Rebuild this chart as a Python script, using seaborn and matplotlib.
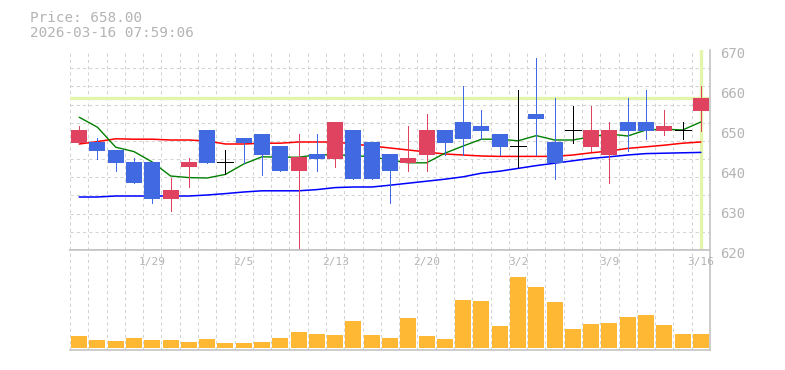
import matplotlib
matplotlib.use("Agg")
import matplotlib.pyplot as plt
from matplotlib.transforms import ScaledTranslation, blended_transform_factory
from matplotlib.ticker import FixedLocator
import seaborn as sns
import numpy as np

# ---------------- data ----------------
dates = ["1/23", "1/26", "1/27", "1/28", "1/29", "1/30", "2/2", "2/3", "2/4", "2/5",
         "2/6", "2/9", "2/10", "2/12", "2/13", "2/16", "2/17", "2/18", "2/19", "2/20",
         "2/24", "2/25", "2/26", "2/27", "3/2", "3/3", "3/4", "3/5", "3/6", "3/9",
         "3/10", "3/11", "3/12", "3/13", "3/16"]
date_labels = ["1/29", "2/5", "2/13", "2/20", "3/2", "3/9", "3/16"]

opens = [646.8, 647.1, 645.0, 642.0, 642.0, 632.8, 640.8, 650.0, 641.9, 648.0,
         649.0, 646.0, 639.8, 644.0, 642.8, 650.0, 647.0, 644.0, 641.8, 643.8,
         650.0, 652.0, 651.0, 649.0, 646.0, 654.0, 647.0, 650.0, 645.8, 643.8,
         652.0, 652.0, 649.8, 650.0, 654.8]
closes = [650.0, 644.8, 641.8, 636.8, 632.8, 635.0, 642.0, 641.8, 641.9, 646.8,
          643.8, 639.8, 643.2, 642.8, 652.0, 637.8, 637.8, 639.8, 643.0, 650.0,
          646.8, 647.8, 649.8, 645.8, 646.0, 652.8, 641.8, 650.0, 650.0, 650.0,
          649.8, 649.8, 651.0, 650.0, 658.0]
highs = [651.0, 648.0, 645.0, 642.9, 642.0, 638.1, 643.0, 650.0, 645.0, 648.0,
         649.0, 646.0, 649.0, 649.0, 652.0, 650.0, 647.0, 644.0, 651.0, 654.0,
         650.0, 661.0, 655.0, 649.0, 660.0, 668.0, 658.0, 656.0, 656.0, 652.0,
         658.0, 660.0, 655.0, 652.0, 661.0]
lows = [646.8, 642.8, 639.8, 636.8, 631.8, 629.8, 635.8, 641.8, 638.9, 641.7,
        638.8, 639.8, 619.5, 639.8, 640.8, 637.8, 637.8, 631.8, 639.8, 639.8,
        643.8, 643.8, 647.8, 643.8, 640.8, 643.8, 637.8, 646.8, 644.8, 636.8,
        644.8, 647.7, 648.8, 647.8, 649.8]

ma_short = [653.2, 650.7, 645.7, 644.6, 642.0, 638.5, 638.1, 638.0, 638.9, 641.5,
            643.3, 643.2, 643.2, 643.8, 643.8, 643.6, 643.3, 642.5, 641.8, 641.8,
            644.2, 646.0, 647.7, 647.7, 647.3, 648.6, 647.5, 647.5, 648.3, 649.0,
            648.5, 650.0, 650.2, 650.0, 652.0]
ma_mid = [646.5, 647.1, 647.8, 647.7, 647.7, 647.5, 647.5, 647.25, 646.5, 646.5,
          646.7, 646.7, 647.0, 647.0, 647.0, 646.5, 646.0, 645.5, 645.0, 644.5,
          644.0, 643.75, 643.5, 643.4, 643.4, 643.4, 643.4, 643.75, 644.3, 644.75,
          645.4, 645.8, 646.2, 646.7, 647.0]
ma_long = [633.25, 633.25, 633.5, 633.5, 633.5, 633.5, 633.5, 633.75, 634.1, 634.5,
           634.8, 634.8, 634.8, 635.1, 635.6, 635.75, 635.75, 636.2, 636.7, 637.2,
           637.7, 638.3, 639.2, 639.7, 640.4, 641.1, 641.7, 642.3, 642.9, 643.3,
           643.75, 644.1, 644.2, 644.3, 644.4]

volumes = [12, 8, 7, 10, 8, 8, 6, 9, 5, 5, 6, 10, 16, 14, 13, 27, 13, 10, 30, 12,
           9, 48, 47, 22, 71, 61, 46, 19, 24, 25, 31, 33, 23, 14, 14]

price_ticks = [620, 630, 640, 650, 660, 670]
current_price = 658.00
timestamp = "2026-03-16 07:59:06"

# ---------------- style ----------------
sns.set_style("white")
plt.rcParams['font.family'] = ['DejaVu Sans Mono', 'DejaVu Sans']

UP = "#e0435f"
DOWN = "#4169e1"
VOLC = "#ffb833"
HILITE = "#e3f4ad"
GRID = "#d2d2d2"
SPINE = "#c4c4c4"
TXT = "#b4b4b4"

n = len(dates)
idx = np.arange(n)

fig = plt.figure(figsize=(7.85, 3.70), dpi=100)
W, H = 785.0, 370.0
ax = fig.add_axes([70 / W, (H - 250) / H, 640 / W, 200 / H])
axv = fig.add_axes([70 / W, (H - 349.5) / H, 640 / W, 99.5 / H])

bw = 0.876
wick_lw = 0.72

# grid (square cells)
for a in (ax, axv):
    a.set_xlim(-0.5, n - 0.5)
    a.xaxis.set_minor_locator(FixedLocator(np.arange(n + 1) - 0.5))
    a.grid(which='minor', axis='x', color=GRID, lw=0.75, ls=(0, (3, 3)), zorder=0)
    a.set_axisbelow(True)

ax.set_ylim(620, 670)
ax.yaxis.set_minor_locator(FixedLocator(np.linspace(620, 670, 12)))
ax.grid(which='minor', axis='y', color=GRID, lw=0.75, ls=(0, (3, 3)), zorder=0)

# highlight lines (current price / current day)
ax.axhline(current_price, color=HILITE, lw=2.4, zorder=1)
ax.axvline(n - 1, color=HILITE, lw=2.4, zorder=1)

# moving averages
sns.lineplot(x=idx, y=ma_long, ax=ax, color="#0000ff", lw=1.1, legend=False, zorder=2)
sns.lineplot(x=idx, y=ma_mid, ax=ax, color="#ff0000", lw=1.1, legend=False, zorder=2)
sns.lineplot(x=idx, y=ma_short, ax=ax, color="#008000", lw=1.0, legend=False, zorder=2)

# candles
for i in range(n):
    o, c, h, l = opens[i], closes[i], highs[i], lows[i]
    if c > o:
        col = UP
    elif c < o:
        col = DOWN
    else:
        col = "black"
    ax.vlines(i, l, h, color=col, lw=wick_lw, zorder=3, antialiased=False)
    if c != o:
        ax.bar(i, abs(c - o), bottom=min(o, c), width=bw, color=col, zorder=4, lw=0)
    else:
        ax.hlines(c, i - bw / 2, i + bw / 2, color=col, lw=wick_lw, zorder=4,
                  antialiased=False)

# volume
sns.barplot(x=idx, y=volumes, ax=axv, native_scale=True, color=VOLC,
            saturation=1, width=bw, zorder=3, linewidth=0)
axv.set_xlim(-0.5, n - 0.5)
axv.set_ylim(-1.5, 98)

# spines / ticks
for a in (ax, axv):
    for s in a.spines.values():
        s.set_color(SPINE)
        s.set_linewidth(1.2)
    a.spines['left'].set_visible(False)
    a.set_xlabel("")
    a.set_ylabel("")
ax.spines['top'].set_visible(False)

ax.set_xticks([])
ax.yaxis.tick_right()
ax.set_yticks(price_ticks)
ax.set_yticklabels([str(t) for t in price_ticks])
ax.tick_params(axis='y', which='both', length=0, pad=7, labelsize=10, labelcolor=TXT)
off = ScaledTranslation(0, -3 / 100, fig.dpi_scale_trans)
for lbl in ax.get_yticklabels():
    lbl.set_transform(lbl.get_transform() + off)

axv.set_yticks([])
axv.set_xticks([])
tr = blended_transform_factory(axv.transData, axv.transAxes)
for lab in date_labels:
    i = dates.index(lab)
    axv.text(i, 1 - 12.3 / 99.5, lab, transform=tr, ha='center', va='center',
             fontsize=8, color=TXT)

# header
fig.text(30 / W, 1 - 18 / H, f"Price: {current_price:.2f}", fontsize=10.3,
         color=TXT, va='center', ha='left')
fig.text(30 / W, 1 - 33 / H, timestamp, fontsize=10.3, color=TXT,
         va='center', ha='left')

fig.savefig("out.png", dpi=100)
